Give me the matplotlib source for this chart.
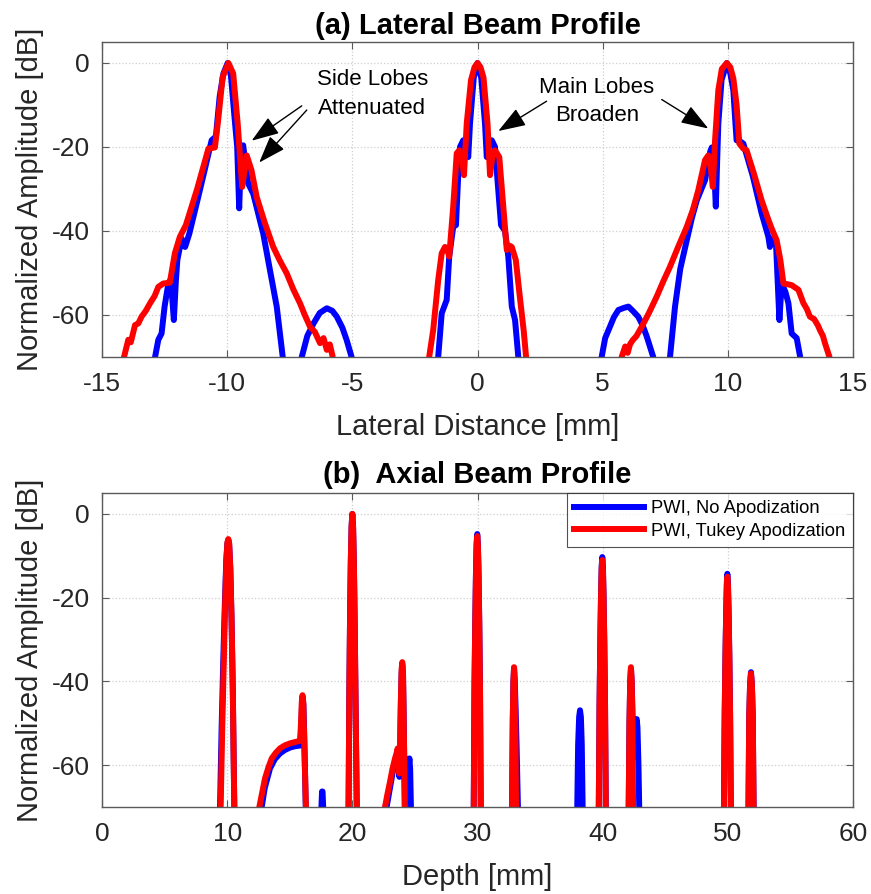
import matplotlib
matplotlib.use("Agg")
import matplotlib.pyplot as plt
import numpy as np

plt.rcParams['font.family'] = ['Liberation Sans', 'DejaVu Sans']
plt.rcParams['axes.unicode_minus'] = False

# ---- (a) lateral beam profile, values in dB vs lateral distance [mm]
# points below the -70 dB floor are written as -90
lat_blue_l_x = [-13.0, -12.88, -12.75, -12.62, -12.5, -12.35, -12.25, -12.13, -12.05, -11.99, -11.82,
                -11.68, -11.51, -11.2, -10.9, -10.62, -10.45, -10.3, -10.15, -9.98, -9.85, -9.72,
                -9.6, -9.52, -9.44, -9.36, -9.25, -9.16, -8.96, -8.56, -8.3, -8.02, -7.78, -7.7]
lat_blue_l_y = [-90, -70, -65.9, -64.4, -58, -52.5, -51.5, -61.2, -52, -46.9, -41.8,
                -43.8, -40.6, -33, -25.5, -18.4, -17.5, -8, -2.5, 0, -3, -12,
                -20, -34.6, -20.5, -19.6, -25, -28.7, -31.1, -40.6, -49, -58, -70, -90]

lat_red_l_x = [-14.25, -14.12, -13.95, -13.85, -13.68, -13.55, -13.42, -13.25, -13.08, -12.9, -12.75,
               -12.55, -12.29, -12.09, -11.89, -11.65, -11.2, -10.75, -10.49, -10.36, -10.18, -9.95,
               -9.76, -9.58, -9.4, -9.22, -9.03, -8.82, -8.5, -8.16, -7.9, -7.62, -7.35, -7.09,
               -6.9, -6.69, -6.5, -6.29, -6.15, -6.02, -5.9, -5.79, -5.7]
lat_red_l_y = [-90, -70, -65.9, -66.5, -62.4, -62, -60.4, -59, -57.2, -55.5, -53.3,
               -52.5, -52.3, -45.3, -41.4, -38.6, -30, -20.4, -20.1, -13.6, -3.3, 0,
               -2.5, -14.4, -29.5, -22, -25.5, -31.9, -38, -43.8, -47, -50.1, -54, -57.2,
               -60, -62.8, -64, -66.7, -65.5, -68.3, -67, -69.8, -90]

lat_blue_sl_x = [-7.1, -7.02, -6.8, -6.55, -6.3, -6.02, -5.8, -5.62, -5.4, -5.23, -5.03, -4.95]
lat_blue_sl_y = [-90, -70, -65, -62, -59.5, -58.4, -59, -60.4, -63, -65.9, -70, -90]

lat_blue_c_x = [-1.65, -1.57, -1.43, -1.23, -1.13, -0.97, -0.86, -0.78, -0.7, -0.57, -0.45, -0.37,
                -0.3, -0.15, 0, 0.15, 0.3, 0.37, 0.45, 0.57, 0.7, 0.8, 0.94, 1.1, 1.23, 1.37,
                1.5, 1.63, 1.7]
lat_blue_c_y = [-90, -70, -59.6, -56.4, -46.1, -39, -38.6, -28, -20, -18.4, -20, -22.4,
                -14.4, -3.5, 0, -3.5, -14.4, -22.4, -20, -18.4, -20, -28, -38.6, -40, -46.1, -58,
                -61.2, -70, -90]

lat_red_c_x = [-2.0, -1.93, -1.77, -1.57, -1.43, -1.3, -1.2, -1.13, -0.97, -0.83, -0.73, -0.62,
               -0.54, -0.43, -0.26, -0.12, 0, 0.12, 0.24, 0.4, 0.5, 0.6, 0.7, 0.87, 1.03, 1.17,
               1.28, 1.37, 1.53, 1.69, 1.85, 1.94, 2.0]
lat_red_c_y = [-90, -70, -63.6, -51.7, -45.3, -43.8, -44.5, -46.1, -34.2, -21.5, -20.8, -23,
               -26.7, -14.4, -4.1, -1, 0, -1, -3.5, -14.4, -26.7, -22, -20.8, -22.4, -34.2, -44.5,
               -43.5, -43.8, -46.9, -55.6, -64, -70, -90]

lat_blue_sr_x = [4.88, 4.96, 5.1, 5.29, 5.45, 5.63, 5.85, 6.03, 6.2, 6.42, 6.6, 6.76, 7.02, 7.1]
lat_blue_sr_y = [-90, -70, -65.5, -62.8, -60.5, -58.8, -58.3, -58, -59, -60.4, -62.5, -65.1, -70, -90]

lat_blue_r_x = [7.6, 7.69, 7.89, 8.1, 8.36, 8.56, 8.76, 9.09, 9.3, 9.36, 9.44, 9.52, 9.58, 9.62,
                9.75, 9.96, 10.1, 10.22, 10.3, 10.35, 10.48, 10.62, 11.0, 11.35, 11.62, 11.68,
                11.78, 11.88, 11.93, 12.06, 12.15, 12.3, 12.42, 12.55, 12.75, 12.89, 12.95]
lat_blue_r_y = [-90, -70, -58, -49, -42.2, -37, -32.7, -27.9, -21, -20.1, -23, -34.2, -22, -14.4,
                -4, 0, -2.5, -6.5, -14, -18.4, -18.6, -19.2, -27, -35.8, -41.4, -43.8,
                -41.8, -42.5, -43.8, -61.2, -52.5, -54.5, -57.2, -64.4, -65.5, -70, -90]

lat_red_r_x = [5.65, 5.76, 5.9, 6.0, 6.09, 6.2, 6.35, 6.56, 6.85, 7.16, 7.42, 7.69, 8.0, 8.36,
               8.6, 8.82, 9.09, 9.22, 9.32, 9.4, 9.49, 9.62, 9.76, 9.96, 10.1, 10.22, 10.35,
               10.46, 10.62, 10.75, 11.05, 11.35, 11.6, 11.75, 11.95, 12.1, 12.22, 12.4, 12.55,
               12.82, 13.02, 13.15, 13.28, 13.45, 13.6, 13.68, 13.8, 13.88, 14.06, 14.15]
lat_red_r_y = [-90, -70, -67.5, -69, -67, -66, -65, -62.8, -59.5, -55.6, -52, -48.5, -44, -39,
               -35, -30.3, -23.1, -22, -25, -29.5, -18.4, -6.5, -1.4, 0, -1, -3.7, -10,
               -19.2, -20.4, -20.8, -26.5, -32.7, -37, -39.4, -42.2, -47, -52.5, -52.7, -52.9,
               -54, -57.2, -58.5, -60.4, -61, -62.5, -63.6, -65, -66.7, -70, -90]

# ---- (b) axial beam profile, values in dB vs depth [mm]
depth_blue_x = [9.35, 9.43, 9.55, 9.68, 9.82, 9.93, 10.02, 10.09, 10.16, 10.25, 10.35, 10.45, 10.52, 10.57, 10.65,
                12.68, 12.76, 13.0, 13.42, 13.8, 14.22, 14.6, 15.02, 15.4, 15.85, 15.93, 15.98, 16.03,
                16.09, 16.15, 16.22, 16.28, 16.35,
                17.48, 17.53, 17.58, 17.62, 17.67, 17.72,
                19.62, 19.7, 19.76, 19.82, 19.88, 19.94, 20.0, 20.06, 20.12, 20.18, 20.24, 20.3, 20.35, 20.43,
                22.65, 22.74, 23.0, 23.28, 23.45, 23.6, 23.7, 23.76, 23.82, 23.88, 23.94, 23.99, 24.05,
                24.1, 24.16, 24.2, 24.28,
                24.36, 24.43, 24.5, 24.56, 24.62, 24.68, 24.76,
                29.62, 29.7, 29.76, 29.82, 29.88, 29.93, 29.98, 30.03, 30.08, 30.14, 30.2, 30.26, 30.34,
                32.68, 32.76, 32.82, 32.87, 32.92, 32.98, 33.05, 33.12, 33.18, 33.23, 33.3,
                37.9, 37.97, 38.04, 38.12, 38.19, 38.26, 38.33, 38.4, 38.48,
                39.61, 39.69, 39.75, 39.81, 39.87, 39.92, 39.97, 40.02, 40.07, 40.13, 40.19, 40.25, 40.33,
                42.0, 42.08, 42.14, 42.2, 42.26, 42.32, 42.4, 42.5, 42.58, 42.66, 42.72, 42.78, 42.86,
                42.92, 43.0,
                49.61, 49.69, 49.75, 49.81, 49.87, 49.92, 49.96, 50.01, 50.06, 50.12, 50.18, 50.24, 50.32,
                51.57, 51.65, 51.71, 51.78, 51.85, 51.92, 51.99, 52.06, 52.14]
depth_blue_y = [-90, -70, -52, -36, -21, -11, -7, -6.2, -7.2, -13, -25, -42, -58, -70, -90,
                -90, -70, -65.5, -60.8, -58.6, -57.2, -56.4, -55.8, -55.5, -55.3, -50, -45.5, -44,
                -45.5, -52, -62, -70, -90,
                -90, -70, -66.3, -66.3, -70, -90,
                -90, -70, -42, -24, -11, -3, 0, -3, -11, -24, -40, -58, -70, -90,
                -90, -70, -65.5, -60.8, -58.8, -57, -58.5, -62.8, -56, -45, -38, -36, -38.5,
                -48, -62, -70, -90,
                -90, -70, -60.5, -58.4, -61, -70, -90,
                -90, -70, -41, -25.5, -13.5, -7, -4.8, -7, -13.5, -25.5, -41, -70, -90,
                -90, -70, -49, -40, -36.8, -40, -47, -55, -63, -70, -90,
                -90, -70, -55, -48.5, -46.9, -48.5, -55, -70, -90,
                -90, -70, -45.5, -30.5, -19, -12.5, -10.3, -12.5, -19, -30.5, -45.5, -70, -90,
                -90, -70, -50, -40, -37, -40, -50, -58, -52, -49.5, -49, -51, -60,
                -70, -90,
                -90, -70, -47.5, -33.5, -23, -16.5, -14.3, -16.5, -23, -33.5, -47.5, -70, -90,
                -90, -70, -48, -40.5, -37.8, -40.5, -48, -70, -90]

depth_red_x = [9.4, 9.48, 9.6, 9.72, 9.84, 9.94, 10.02, 10.09, 10.16, 10.25, 10.35, 10.45, 10.52, 10.57, 10.65,
               12.47, 12.57, 12.8, 13.02, 13.3, 13.56, 13.9, 14.22, 14.6, 15.02, 15.4, 15.82, 15.9,
               15.96, 16.02, 16.08, 16.14, 16.22, 16.29, 16.37,
               19.62, 19.7, 19.76, 19.82, 19.88, 19.94, 20.0, 20.06, 20.12, 20.18, 20.24, 20.3, 20.35, 20.43,
               22.52, 22.61, 22.8, 23.01, 23.2, 23.41, 23.55, 23.62, 23.7, 23.76, 23.82, 23.88, 23.94,
               23.99, 24.05, 24.1, 24.16, 24.2, 24.28,
               29.62, 29.7, 29.76, 29.82, 29.88, 29.93, 29.98, 30.03, 30.08, 30.14, 30.2, 30.26, 30.34,
               32.68, 32.76, 32.82, 32.87, 32.92, 32.97, 33.02, 33.08, 33.15,
               39.61, 39.69, 39.75, 39.81, 39.87, 39.92, 39.97, 40.02, 40.07, 40.13, 40.19, 40.25, 40.33,
               42.0, 42.08, 42.14, 42.2, 42.26, 42.32, 42.38, 42.43, 42.5,
               49.61, 49.69, 49.75, 49.81, 49.87, 49.92, 49.96, 50.01, 50.06, 50.12, 50.18, 50.24, 50.32,
               51.57, 51.65, 51.71, 51.78, 51.85, 51.92, 51.99, 52.06, 52.14]
depth_red_y = [-90, -70, -52, -36, -21, -11, -6.8, -6, -7, -13, -25, -42, -58, -70, -90,
               -90, -70, -66.5, -63.2, -60.5, -58.4, -57, -56, -55.3, -54.8, -54.5, -54.2, -50,
               -45, -43.3, -45, -52, -62, -70, -90,
               -90, -70, -42, -24, -11, -3, 0, -3, -11, -24, -40, -58, -70, -90,
               -90, -70, -67, -64, -61, -58.4, -57, -56, -58, -62, -55, -44, -37,
               -35.4, -38, -48, -62, -70, -90,
               -90, -70, -42, -26, -14, -7.5, -5.3, -7.5, -14, -26, -42, -70, -90,
               -90, -70, -49, -40, -36.6, -40, -49, -70, -90,
               -90, -70, -46, -31, -19.5, -13.2, -11, -13.2, -19.5, -31, -46, -70, -90,
               -90, -70, -50, -40, -36.6, -40, -50, -70, -90,
               -90, -70, -48, -34, -23.5, -17.2, -15, -17.2, -23.5, -34, -48, -70, -90,
               -90, -70, -48, -40.5, -38.1, -40.5, -48, -70, -90]

series_labels = ['PWI, No Apodization', 'PWI, Tukey Apodization']
lat_ticks = [-15, -10, -5, 0, 5, 10, 15]
depth_ticks = [0, 10, 20, 30, 40, 50, 60]
db_ticks = [-60, -40, -20, 0]

BLUE = '#0000ff'
RED = '#ff0000'
LW = 4.3
EDGE = '#5a5a5a'

fig = plt.figure(figsize=(8.71, 8.94), dpi=100)
ax1 = fig.add_axes([102 / 871, 1 - 357 / 894, 751 / 871, 315 / 894])
ax2 = fig.add_axes([102 / 871, 1 - 807 / 894, 751 / 871, 314 / 894])


def style(ax, xticks, xlim):
    ax.set_xlim(*xlim)
    ax.set_ylim(-70, 5)
    ax.set_xticks(xticks)
    ax.set_yticks(db_ticks)
    ax.grid(True, linestyle=':', color='#cfcfcf', linewidth=0.9)
    ax.set_axisbelow(True)
    ax.tick_params(direction='in', length=5, width=0.8, color=EDGE, labelsize=19,
                   labelcolor='#262626', top=True, right=True)
    ax.tick_params(axis='x', pad=11)
    ax.tick_params(axis='y', pad=9)
    for s in ax.spines.values():
        s.set_color(EDGE)
        s.set_linewidth(1.0)
    ax.set_ylabel('Normalized Amplitude [dB]', fontsize=21, color='#262626')
    ax.yaxis.set_label_coords(-0.077, 0.5)


# top panel
for xs, ys in [(lat_blue_l_x, lat_blue_l_y), (lat_blue_sl_x, lat_blue_sl_y),
               (lat_blue_c_x, lat_blue_c_y), (lat_blue_sr_x, lat_blue_sr_y),
               (lat_blue_r_x, lat_blue_r_y)]:
    ax1.plot(xs, ys, color=BLUE, lw=LW, solid_joinstyle='round')
for xs, ys in [(lat_red_l_x, lat_red_l_y), (lat_red_c_x, lat_red_c_y),
               (lat_red_r_x, lat_red_r_y)]:
    ax1.plot(xs, ys, color=RED, lw=LW, solid_joinstyle='round')
style(ax1, lat_ticks, (-15, 15))
ax1.set_xlabel('Lateral Distance [mm]', fontsize=21, color='#262626')
ax1.xaxis.set_label_coords(0.5, -0.178)
ax1.set_title('(a) Lateral Beam Profile', fontsize=21, fontweight='bold', pad=6)

arrow = dict(arrowstyle='-|>,head_length=0.85,head_width=0.3', color='k', lw=1,
             mutation_scale=20, shrinkA=0, shrinkB=0)
ax1.text(-4.2, -7.4, 'Side Lobes\nAttenuated', ha='center', va='center', fontsize=16,
         linespacing=1.45)
ax1.annotate('', xy=(-9.02, -18.5), xytext=(-7.02, -10.2), arrowprops=arrow)
ax1.annotate('', xy=(-8.72, -23.7), xytext=(-6.82, -11.2), arrowprops=arrow)
ax1.text(4.77, -9.2, 'Main Lobes\nBroaden', ha='center', va='center', fontsize=16,
         linespacing=1.45)
ax1.annotate('', xy=(0.83, -16.2), xytext=(2.76, -9.1), arrowprops=arrow)
ax1.annotate('', xy=(9.22, -15.6), xytext=(7.36, -8.7), arrowprops=arrow)

# bottom panel
ax2.plot(depth_blue_x, depth_blue_y, color=BLUE, lw=LW, label=series_labels[0])
ax2.plot(depth_red_x, depth_red_y, color=RED, lw=LW, label=series_labels[1])
style(ax2, depth_ticks, (0, 60))
ax2.set_xlabel('Depth [mm]', fontsize=21, color='#262626')
ax2.xaxis.set_label_coords(0.5, -0.178)
ax2.set_title('(b)  Axial Beam Profile', fontsize=21, fontweight='bold', pad=7)
leg = ax2.legend(loc='upper right', fontsize=13.2, frameon=True, fancybox=False,
                 borderaxespad=0, handlelength=3.8, handletextpad=0.4,
                 borderpad=0.4, labelspacing=0.3)
leg.get_frame().set_edgecolor('#262626')
leg.get_frame().set_linewidth(0.8)

fig.savefig('out.png', dpi=100)
